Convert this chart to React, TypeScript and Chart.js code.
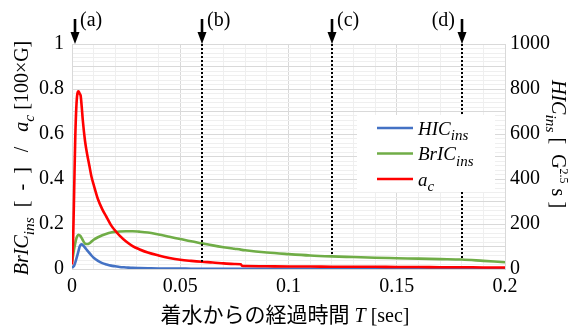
import React, { useEffect, useRef } from 'react';
import { Chart, registerables } from 'chart.js';

Chart.register(...registerables);

// ---- data ----
const timeSec = [
  0, 0.0005, 0.001, 0.0015, 0.002, 0.0025, 0.003, 0.0035, 0.004, 0.0045, 0.005,
  0.006, 0.007, 0.008, 0.009, 0.01, 0.012, 0.014, 0.016, 0.018, 0.02, 0.022,
  0.025, 0.028, 0.031, 0.035, 0.04, 0.045, 0.05, 0.055, 0.06, 0.065, 0.07,
  0.075, 0.078, 0.0785, 0.08, 0.09, 0.1, 0.11, 0.12, 0.13, 0.14, 0.15, 0.16,
  0.17, 0.18, 0.19, 0.2,
];

// HIC_ins [G^2.5 s] (right axis)
const hicValues = [
  5, 10, 15, 28, 45, 62, 80, 98, 108, 110, 106,
  95, 83, 72, 60, 50, 36, 26, 20, 15, 12, 9,
  7, 5, 4, 3, 2, 2, 2, 1, 1, 1, 1,
  1, 1, 1, 1, 1, 1, 1, 1, 1, 1, 1, 1,
  1, 1, 1, 1,
];

// BrIC_ins [-] (left axis)
const bricValues = [
  0.03, 0.06, 0.09, 0.115, 0.135, 0.147, 0.152, 0.15, 0.145, 0.137, 0.128,
  0.113, 0.111, 0.114, 0.122, 0.13, 0.141, 0.15, 0.157, 0.162, 0.165, 0.167,
  0.168, 0.168, 0.166, 0.162, 0.153, 0.143, 0.133, 0.123, 0.114, 0.105, 0.097,
  0.09, 0.086, 0.085, 0.083, 0.073, 0.066, 0.06, 0.056, 0.053, 0.05, 0.048, 0.046,
  0.044, 0.042, 0.036, 0.03,
];

// a_c [100 x G] (left axis)
const acValues = [
  0.02, 0.12, 0.35, 0.58, 0.72, 0.78, 0.79, 0.78, 0.77, 0.72, 0.66,
  0.57, 0.51, 0.46, 0.41, 0.375, 0.31, 0.265, 0.23, 0.195, 0.17, 0.148,
  0.122, 0.102, 0.088, 0.073, 0.06, 0.049, 0.041, 0.036, 0.032, 0.029, 0.025,
  0.022, 0.021, 0.014, 0.013, 0.012, 0.011, 0.011, 0.01, 0.01, 0.01, 0.009, 0.009,
  0.008, 0.008, 0.007, 0.007,
];

const markerLabels = ['(a)', '(b)', '(c)', '(d)'];
const markerTimes = [0.0013, 0.06, 0.12, 0.18];
const markerLineEnds = [null, 0.032, 0.06, 0.045];
const markerLabelSide = ['right', 'right', 'right', 'left'];

const SERIF = "'Liberation Serif', 'Times New Roman', serif";
const CJK = "'Noto Sans CJK JP', sans-serif";

const BLUE = '#4472C4';
const GREEN = '#70AD47';
const RED = '#FF0000';

type Seg = { t: string; i?: boolean; sub?: boolean; sup?: boolean; cjk?: boolean };

function segFont(s: Seg, size: number, subSize: number, cjkSize: number) {
  if (s.cjk) return `${cjkSize}px ${CJK}`;
  const sz = s.sub || s.sup ? subSize : size;
  return `${s.i ? 'italic ' : ''}${sz}px ${SERIF}`;
}

function richWidth(ctx: CanvasRenderingContext2D, segs: Seg[], size: number, subSize: number, cjkSize = size) {
  let w = 0;
  for (const s of segs) {
    ctx.font = segFont(s, size, subSize, cjkSize);
    w += ctx.measureText(s.t).width;
  }
  return w;
}

function drawRich(ctx: CanvasRenderingContext2D, segs: Seg[], x: number, y: number, size: number, subSize: number, cjkSize = size) {
  let cx = x;
  ctx.textAlign = 'left';
  ctx.textBaseline = 'alphabetic';
  for (const s of segs) {
    ctx.font = segFont(s, size, subSize, cjkSize);
    const dy = s.sub ? size * 0.28 : s.sup ? -size * 0.4 : 0;
    ctx.fillText(s.t, cx, y + dy);
    cx += ctx.measureText(s.t).width;
  }
}

const near = (v: number, step: number) => Math.abs(v / step - Math.round(v / step)) < 1e-6;

const overlayPlugin = {
  id: 'overlay',
  afterDatasetsDraw(chart: any) {
    const ctx: CanvasRenderingContext2D = chart.ctx;
    const xs = chart.scales.x;
    const ys = chart.scales.y;
    const top = chart.chartArea.top;
    ctx.save();
    ctx.strokeStyle = '#000';
    ctx.lineWidth = 2;
    ctx.setLineDash([2, 2]);
    markerTimes.forEach((t, i) => {
      const end = markerLineEnds[i];
      if (end == null) return;
      const x = Math.round(xs.getPixelForValue(t));
      ctx.beginPath();
      ctx.moveTo(x, top);
      ctx.lineTo(x, ys.getPixelForValue(end));
      ctx.stroke();
    });
    ctx.restore();
  },
  afterDraw(chart: any) {
    const ctx: CanvasRenderingContext2D = chart.ctx;
    const xs = chart.scales.x;
    const area = chart.chartArea;
    ctx.save();
    ctx.fillStyle = '#000';
    ctx.strokeStyle = '#000';

    // arrows + labels
    markerTimes.forEach((t, i) => {
      const x = Math.round(xs.getPixelForValue(t));
      ctx.lineWidth = 2.6;
      ctx.setLineDash([]);
      ctx.beginPath();
      ctx.moveTo(x, 19);
      ctx.lineTo(x, 34);
      ctx.stroke();
      ctx.beginPath();
      ctx.moveTo(x - 4.5, 32);
      ctx.lineTo(x + 4.5, 32);
      ctx.lineTo(x, area.top);
      ctx.closePath();
      ctx.fill();
      ctx.font = `20px ${SERIF}`;
      ctx.textBaseline = 'alphabetic';
      if (markerLabelSide[i] === 'right') {
        ctx.textAlign = 'left';
        ctx.fillText(markerLabels[i], x + 5, 26);
      } else {
        ctx.textAlign = 'right';
        ctx.fillText(markerLabels[i], x - 7, 26);
      }
    });

    // legend
    ctx.fillStyle = '#fff';
    ctx.fillRect(357, 115, 138, 77);
    const legendItems: { color: string; segs: Seg[] }[] = [
      { color: BLUE, segs: [{ t: 'HIC', i: true }, { t: 'ins', i: true, sub: true }] },
      { color: GREEN, segs: [{ t: 'BrIC', i: true }, { t: 'ins', i: true, sub: true }] },
      { color: RED, segs: [{ t: 'a', i: true }, { t: 'c', i: true, sub: true }] },
    ];
    legendItems.forEach((it, k) => {
      const y = 128 + k * 25.5;
      ctx.strokeStyle = it.color;
      ctx.lineWidth = 2.6;
      ctx.beginPath();
      ctx.moveTo(377, y);
      ctx.lineTo(413, y);
      ctx.stroke();
      ctx.fillStyle = '#000';
      drawRich(ctx, it.segs, 418, y + 6.7, 19, 15);
    });

    // left axis title
    const leftSegs: Seg[] = [
      { t: 'BrIC', i: true },
      { t: 'ins', i: true, sub: true },
      { t: '  [  -  ]   /   ' },
      { t: 'a', i: true },
      { t: 'c', i: true, sub: true },
      { t: ' [100×G]' },
    ];
    ctx.fillStyle = '#000';
    {
      const w = richWidth(ctx, leftSegs, 20, 15.5);
      ctx.save();
      ctx.translate(28, 158);
      ctx.rotate(-Math.PI / 2);
      drawRich(ctx, leftSegs, -w / 2, 0, 20, 15.5);
      ctx.restore();
    }

    // right axis title
    const rightSegs: Seg[] = [
      { t: 'HIC', i: true },
      { t: 'ins', i: true, sub: true },
      { t: ' [  G' },
      { t: '2.5', sup: true },
      { t: ' s ]' },
    ];
    {
      ctx.save();
      ctx.translate(552, 144);
      ctx.rotate(Math.PI / 2);
      const sizeOf = (s: Seg) => (s.sup ? 12 : s.sub ? 15.5 : 20);
      let w = 0;
      for (const s of rightSegs) {
        ctx.font = `${s.i ? 'italic ' : ''}${sizeOf(s)}px ${SERIF}`;
        w += ctx.measureText(s.t).width;
      }
      let cx = -w / 2;
      for (const s of rightSegs) {
        ctx.font = `${s.i ? 'italic ' : ''}${sizeOf(s)}px ${SERIF}`;
        const dy = s.sub ? 5.6 : s.sup ? -7.5 : 0;
        ctx.textAlign = 'left';
        ctx.textBaseline = 'alphabetic';
        ctx.fillText(s.t, cx, dy);
        cx += ctx.measureText(s.t).width;
      }
      ctx.restore();
    }

    // x axis title
    const xSegs: Seg[] = [
      { t: '着水からの経過時間', cjk: true },
      { t: ' ' },
      { t: 'T', i: true },
      { t: ' [sec]' },
    ];
    {
      const w = richWidth(ctx, xSegs, 20, 15, 21);
      drawRich(ctx, xSegs, 285 - w / 2, 322, 20, 15, 21);
    }
    ctx.restore();
  },
};

export default function App() {
  const canvasRef = useRef<HTMLCanvasElement | null>(null);

  useEffect(() => {
    const canvas = canvasRef.current;
    if (!canvas) return;
    const tickFont = { family: SERIF, size: 20 };
    const chart = new Chart(canvas, {
      type: 'line',
      data: {
        datasets: [
          {
            label: 'HIC_ins',
            data: timeSec.map((t, i) => ({ x: t, y: hicValues[i] })),
            borderColor: BLUE,
            yAxisID: 'y1',
            order: 2,
          },
          {
            label: 'BrIC_ins',
            data: timeSec.map((t, i) => ({ x: t, y: bricValues[i] })),
            borderColor: GREEN,
            yAxisID: 'y',
            order: 1,
          },
          {
            label: 'a_c',
            data: timeSec.map((t, i) => ({ x: t, y: acValues[i] })),
            borderColor: RED,
            yAxisID: 'y',
            order: 0,
          },
        ],
      },
      options: {
        responsive: false,
        animation: false,
        layout: { padding: { top: 44, left: 0, right: 0, bottom: 0 } },
        plugins: { legend: { display: false }, tooltip: { enabled: false } },
        elements: {
          point: { radius: 0 },
          line: { borderWidth: 2.6, cubicInterpolationMode: 'monotone', fill: false },
        },
        scales: {
          x: {
            type: 'linear',
            min: 0,
            max: 0.2,
            ticks: {
              stepSize: 0.01,
              autoSkip: false,
              maxRotation: 0,
              padding: 6,
              color: '#000',
              font: tickFont,
              callback: (v: any) => (near(Number(v), 0.05) ? String(parseFloat(Number(v).toFixed(2))) : ''),
            },
            grid: {
              drawTicks: false,
              color: (c: any) => (c.tick && near(c.tick.value, 0.05) ? '#d9d9d9' : '#efefef'),
            },
            border: { color: '#d9d9d9' },
            afterFit: (s: any) => {
              s.height = 62;
            },
          },
          y: {
            type: 'linear',
            position: 'left',
            min: 0,
            max: 1,
            ticks: {
              stepSize: 0.02,
              autoSkip: false,
              padding: 8,
              color: '#000',
              font: tickFont,
              callback: (v: any) => (near(Number(v), 0.2) ? String(parseFloat(Number(v).toFixed(1))) : ''),
            },
            grid: {
              drawTicks: false,
              color: (c: any) => (c.tick && near(c.tick.value, 0.1) ? '#d9d9d9' : '#efefef'),
            },
            border: { color: '#d9d9d9' },
            afterFit: (s: any) => {
              s.width = 72;
            },
          },
          y1: {
            type: 'linear',
            position: 'right',
            min: 0,
            max: 1000,
            ticks: {
              stepSize: 200,
              padding: 5,
              color: '#000',
              font: tickFont,
              callback: (v: any) => String(Math.round(Number(v))),
            },
            grid: { display: false, drawTicks: false },
            border: { color: '#d9d9d9' },
            afterFit: (s: any) => {
              s.width = 63;
            },
          },
        },
      } as any,
      plugins: [overlayPlugin],
    });
    return () => chart.destroy();
  }, []);

  return (
    <div style={{ position: 'absolute', left: 0, top: 0, width: 568, height: 331, background: '#fff' }}>
      <canvas ref={canvasRef} width={568} height={331} style={{ display: 'block' }} />
    </div>
  );
}
